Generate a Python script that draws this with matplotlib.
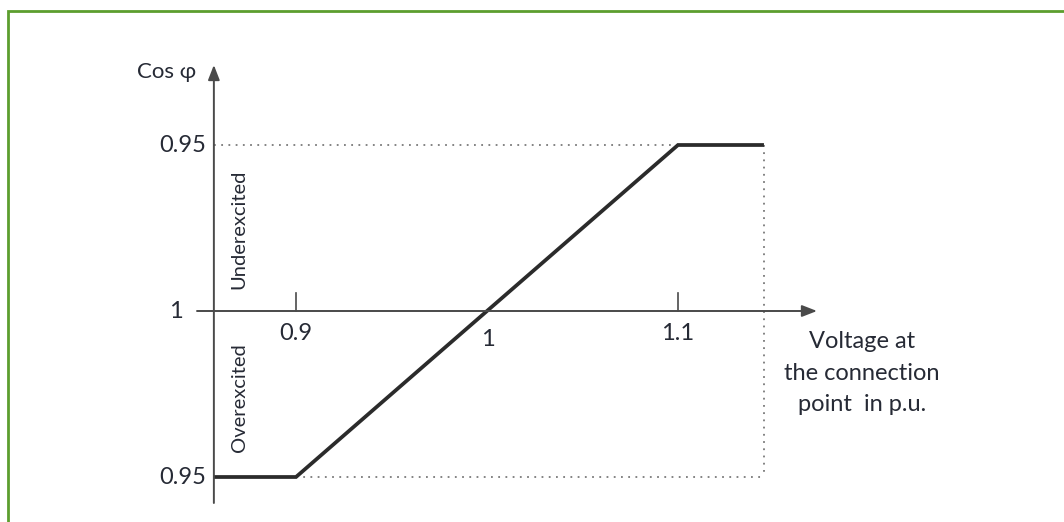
import matplotlib
matplotlib.use("Agg")
import matplotlib.pyplot as plt
from matplotlib.patches import Rectangle

# Data
voltage = [0.857, 0.9, 1.1, 1.145]          # p.u.
reactive = [-0.05, -0.05, 0.05, 0.05]      # signed (1 - cos phi): + underexcited, - overexcited
x_ticks = [0.9, 1.0, 1.1]
x_tick_labels = ["0.9", "1", "1.1"]
y_ticks = [0.05, 0.0, -0.05]
y_tick_labels = ["0.95", "1", "0.95"]

plt.rcParams['font.family'] = ['Lato', 'DejaVu Sans']
TXT = '#262a35'
AX = '#4a4a4a'

fig = plt.figure(figsize=(10.64, 5.22), dpi=100)
ax = fig.add_axes([0, 0, 1, 1])
ax.set_xlim(1 - 487/1910, 1 + 577/1910)
ax.set_ylim(-211/3320, 311/3320)
ax.axis('off')

# green frame (left and top visible)
fig.patches.append(Rectangle((8/1064, -0.01), 1.1, (522-11)/522 + 0.01, transform=fig.transFigure,
                             fill=False, edgecolor='#5c9e2e', linewidth=2.0))

x0 = voltage[0]
# dotted guides
dot = dict(ls=(0, (1, 3)), color='#7a7a7a', lw=1.3)
ax.plot([x0, voltage[2]], [y_ticks[0]]*2, **dot)
ax.plot([voltage[1], voltage[3]], [y_ticks[2]]*2, **dot)
ax.plot([voltage[3]]*2, [y_ticks[0], y_ticks[2]], **dot)

# axes with arrows
ax.annotate('', xy=(1 + 330/1910, 0), xytext=(1 - 290/1910, 0),
            arrowprops=dict(arrowstyle='-|>,head_length=0.9,head_width=0.35', color=AX, lw=1.4,
                            shrinkA=0, shrinkB=0))
ax.annotate('', xy=(x0, 246/3320), xytext=(x0, -192/3320),
            arrowprops=dict(arrowstyle='-|>,head_length=0.9,head_width=0.35', color=AX, lw=1.4,
                            shrinkA=0, shrinkB=0))

# ticks at 0.9 and 1.1
for xt in (x_ticks[0], x_ticks[2]):
    ax.plot([xt, xt], [0, 18/3320], color=AX, lw=1.2)

# main characteristic
ax.plot(voltage, reactive, color='#2b2b2b', lw=2.7, solid_capstyle='butt', solid_joinstyle='miter')

# tick labels
fs = 17
ax.text(x_ticks[0], -22/3320, x_tick_labels[0], ha='center', va='center', fontsize=fs, color=TXT)
ax.text(x_ticks[1] + 1/1910, -28/3320, x_tick_labels[1], ha='center', va='center', fontsize=fs, color=TXT)
ax.text(x_ticks[2], -22/3320, x_tick_labels[2], ha='center', va='center', fontsize=fs, color=TXT)

ax.text(x0 - 8/1910, y_ticks[0], y_tick_labels[0], ha='right', va='center', fontsize=fs, color=TXT)
ax.text(1 - 311/1910, y_ticks[1], y_tick_labels[1], ha='center', va='center', fontsize=fs, color=TXT)
ax.text(x0 - 8/1910, y_ticks[2], y_tick_labels[2], ha='right', va='center', fontsize=fs, color=TXT)

ax.text(x0 - 18/1910, 239/3320, 'Cos φ', ha='right', va='center', fontsize=fs - 1, color=TXT)

ax.text(1 - 248/1910, 82/3320, 'Underexcited', rotation=90, ha='center', va='center',
        fontsize=14.5, color=TXT)
ax.text(1 - 248/1910, -87/3320, 'Overexcited', rotation=90, ha='center', va='center',
        fontsize=14.5, color=TXT)

ax.text(1 + 375/1910, -62/3320, 'Voltage at\nthe connection\npoint  in p.u.', ha='center', va='center',
        fontsize=fs, color=TXT, linespacing=1.6)

fig.savefig('out.png', dpi=100)
